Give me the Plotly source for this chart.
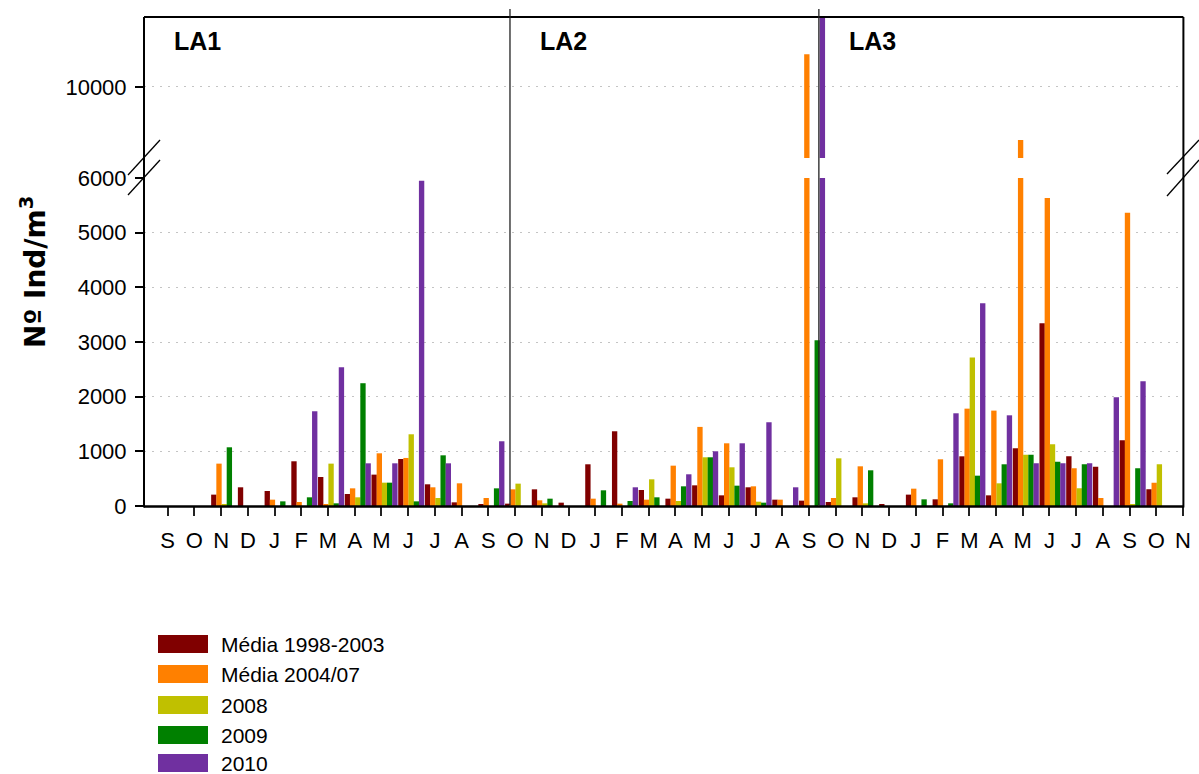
import plotly.graph_objects as go

# ---------------- data ----------------
MONTHS = ["S", "O", "N", "D", "J", "F", "M", "A", "M", "J", "J", "A",
          "S", "O", "N", "D", "J", "F", "M", "A", "M", "J", "J", "A",
          "S", "O", "N", "D", "J", "F", "M", "A", "M", "J", "J", "A",
          "S", "O", "N"]

SERIES_NAMES = ["Média 1998-2003", "Média 2004/07", "2008", "2009", "2010"]
SERIES_COLORS = ["#800000", "#FF8000", "#C0C000", "#008000", "#7030A0"]

media_1998_2003 = [0, 0, 208, 342, 275, 818, 531, 220, 574, 860, 397, 67, 30,
                   43, 305, 61, 763, 1367, 293, 134, 378, 195, 342, 116, 98,
                   73, 159, 30, 208, 122, 909, 195, 1056, 3344, 909, 720, 1202, 305, 0]
media_2004_07 = [0, 0, 775, 0, 116, 73, 37, 323, 964, 879, 342, 415, 146,
                 305, 104, 0, 134, 43, 116, 738, 1447, 1147, 360, 116, 10600,
                 146, 726, 0, 317, 854, 1781, 1745, 9029, 5634, 689, 146, 5364, 427, 0]
y2008 = [0, 0, 37, 0, 0, 0, 775, 159, 427, 1312, 146, 0, 0,
         409, 49, 0, 0, 0, 488, 92, 891, 708, 79, 0, 0,
         872, 49, 0, 0, 0, 2715, 415, 939, 1129, 323, 0, 30, 763, 0]
y2009 = [0, 0, 1074, 0, 85, 159, 49, 2246, 427, 85, 927, 0, 323,
         0, 134, 0, 287, 92, 159, 360, 891, 372, 61, 0, 3033,
         0, 653, 0, 122, 49, 555, 763, 939, 810, 763, 0, 689, 0, 0]
y2010 = [0, 0, 0, 0, 0, 1733, 2539, 781, 781, 5950, 781, 0, 1184,
         0, 0, 0, 0, 342, 0, 580, 1001, 1147, 1532, 342, 11500,
         0, 0, 0, 0, 1696, 3711, 1659, 781, 781, 781, 1989, 2282, 0, 0]

SERIES_VALUES = [media_1998_2003, media_2004_07, y2008, y2009, y2010]

PANELS = ["LA1", "LA2", "LA3"]
PANEL_SPLITS = [12.81, 24.37]          # x positions of separator lines
LOW_TICKS = [0, 1000, 2000, 3000, 4000, 5000, 6000]
HIGH_TICKS = [10000]
LOW_RANGE = [0, 6000]
HIGH_RANGE = [8701, 11280]

# ---------------- geometry helpers ----------------
W, H = 1199, 774
def px(x):
    return x / W
def py(y):
    return 1 - y / H

X_LEFT, X_RIGHT = 144, 1183.4
Y_TOP, Y_BASE = 17, 506
LOW_TOP, UP_BOT = 178, 158
X0_PX, DX_PX = 167.7, 26.72
x_range = [(X_LEFT - X0_PX) / DX_PX, (X_RIGHT - X0_PX) / DX_PX]

FONT = "Liberation Sans, Arial, sans-serif"
BAR_W = 0.2
BAR_STEP = 0.194
BAR_START = -0.374

xs = list(range(len(MONTHS)))
fig = go.Figure()
for i, (name, color, vals) in enumerate(zip(SERIES_NAMES, SERIES_COLORS, SERIES_VALUES)):
    for yax in ("y", "y2"):
        fig.add_trace(go.Bar(
            x=xs, y=vals, name=name, xaxis="x", yaxis=yax,
            width=BAR_W, offset=BAR_START + i * BAR_STEP,
            marker=dict(color=color, line=dict(width=0)),
            showlegend=False, legendgroup=name,
        ))

ytickfont = dict(family=FONT, size=22, color="black")
xtickfont = dict(family=FONT, size=22, color="black")
GRID = dict(showgrid=True, gridcolor="#C4C4C4", griddash="2px,6px", gridwidth=1)
fig.update_layout(
    width=W, height=H,
    margin=dict(l=0, r=0, t=0, b=0, autoexpand=False),
    paper_bgcolor="white", plot_bgcolor="white",
    barmode="overlay",
    xaxis=dict(domain=[px(X_LEFT), px(X_RIGHT)], range=x_range,
               tickmode="array", tickvals=xs, ticktext=MONTHS,
               ticks="outside", ticklen=9, tickwidth=1.5, tickcolor="#222222",
               tickfont=xtickfont, ticklabelstandoff=6,
               showgrid=False, zeroline=False, showline=False, anchor="y",
               automargin=False),
    yaxis=dict(domain=[py(Y_BASE), py(LOW_TOP)], range=LOW_RANGE,
               tickmode="array", tickvals=LOW_TICKS, tickformat="d",
               ticks="outside", ticklen=8, tickwidth=1.5, tickcolor="black",
               tickfont=ytickfont, ticklabelstandoff=4,
               zeroline=False, showline=False, anchor="x", automargin=False, **GRID),
    yaxis2=dict(domain=[py(UP_BOT), py(Y_TOP)], range=HIGH_RANGE,
                tickmode="array", tickvals=HIGH_TICKS, tickformat="d",
                ticks="outside", ticklen=8, tickwidth=1.5, tickcolor="black",
                tickfont=ytickfont, ticklabelstandoff=4,
                zeroline=False, showline=False, anchor="x", automargin=False, **GRID),
)

shapes = []
def pline(x0, y0, x1, y1, w=2, color="black"):
    shapes.append(dict(type="line", xref="paper", yref="paper",
                       x0=px(x0), y0=py(y0), x1=px(x1), y1=py(y1),
                       line=dict(color=color, width=w), layer="above"))

# frame
pline(X_LEFT, Y_TOP, X_LEFT, Y_BASE + 1.5)
pline(X_LEFT, Y_TOP, X_RIGHT, Y_TOP)
pline(X_RIGHT, Y_TOP, X_RIGHT, Y_BASE + 1.5)
pline(X_LEFT, Y_BASE + 0.5, X_RIGHT, Y_BASE + 0.5, w=2.5)
# axis break marks
pline(128, 175, 160, 140, w=1.3)
pline(128, 195, 160, 160, w=1.3)
pline(1167, 174, 1199, 140, w=1.3)
pline(1167, 196, 1199, 160, w=1.3)
# panel separators (data x, paper y)
for s in PANEL_SPLITS:
    shapes.append(dict(type="line", xref="x", yref="paper", x0=s, x1=s,
                       y0=py(Y_BASE), y1=py(9),
                       line=dict(color="#222222", width=1.3), layer="above"))

annotations = []
panel_x_px = [172, 538, 847]
for name, xp in zip(PANELS, panel_x_px):
    annotations.append(dict(text="<b>%s</b>" % name, xref="paper", yref="paper",
                            x=px(xp), y=py(41), xanchor="left", yanchor="middle",
                            showarrow=False, font=dict(family=FONT, size=25, color="black")))
annotations.append(dict(text="<b>Nº Ind/m<sup>3</sup></b>", xref="paper", yref="paper",
                        x=px(33), y=py(272), xanchor="center", yanchor="middle",
                        textangle=-90, showarrow=False,
                        font=dict(family="DejaVu Sans, Liberation Sans, sans-serif", size=28, color="black")))

# legend
legend_rows = [644, 674, 705, 735, 763]
for name, color, yr in zip(SERIES_NAMES, SERIES_COLORS, legend_rows):
    shapes.append(dict(type="rect", xref="paper", yref="paper",
                       x0=px(158), x1=px(208), y0=py(yr - 9), y1=py(yr + 9),
                       fillcolor=color, line=dict(width=0)))
    annotations.append(dict(text=name, xref="paper", yref="paper",
                            x=px(219), y=py(yr), xanchor="left", yanchor="middle",
                            showarrow=False, font=dict(family=FONT, size=21, color="black")))

fig.update_layout(shapes=shapes, annotations=annotations)
fig.write_html("out.html")
